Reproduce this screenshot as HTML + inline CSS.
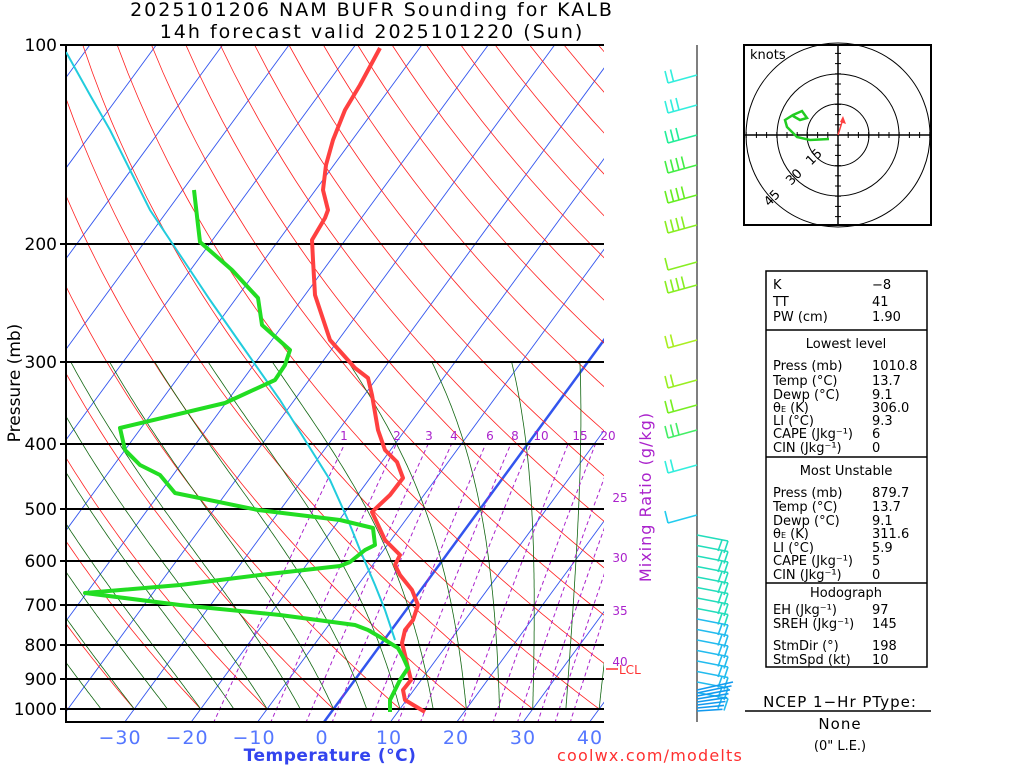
<!DOCTYPE html>
<html><head><meta charset="utf-8"><style>
body{margin:0;background:#fff;width:1024px;height:768px;overflow:hidden}
svg{font-family:"DejaVu Sans","Liberation Sans",sans-serif}
</style></head><body>
<svg id="s" width="1024" height="768" xmlns="http://www.w3.org/2000/svg">
<defs><clipPath id="c"><rect x="66" y="45" width="538" height="677"/></clipPath></defs>
<g id="grid" clip-path="url(#c)"></g>
<g id="hl" stroke="#000" stroke-width="2">
<line x1="60" y1="45" x2="604" y2="45"/><line x1="60" y1="244" x2="604" y2="244"/>
<line x1="60" y1="362" x2="604" y2="362"/><line x1="60" y1="444" x2="604" y2="444"/>
<line x1="60" y1="509" x2="604" y2="509"/><line x1="60" y1="561" x2="604" y2="561"/>
<line x1="60" y1="605" x2="604" y2="605"/><line x1="60" y1="645" x2="604" y2="645"/>
<line x1="60" y1="679" x2="604" y2="679"/><line x1="60" y1="709" x2="604" y2="709"/>
<line x1="66" y1="45" x2="66" y2="723"/><line x1="66" y1="722" x2="604" y2="722"/>
</g>
<g clip-path="url(#c)" fill="none" stroke-width="2">
<polyline stroke="#22ccdd" points="66,52 90,95 110,130 130,170 150,210 180,255 210,300 245,350 280,400 305,440 330,480 348,520 360,550 375,585 385,610 395,640"/>
</g>
<g fill="none" stroke-width="4" stroke-linejoin="round">
<polyline stroke="#ff4040" points="425,712 405,700 403,690 411,680 408,668 405,655 402,643 405,630 413,620 418,605 412,590 400,575 395,565 400,555 385,540 372,512 390,495 403,478 397,462 385,450 378,430 372,395 368,378 355,368 330,340 315,295 313,260 312,240 325,218 328,210 323,190 326,165 333,140 345,110 360,85 380,48"/>
<polyline stroke="#22dd22" points="390,712 390,700 395,690 400,680 408,668 403,657 398,648 385,640 368,630 355,625 280,615 180,605 85,593 180,585 260,575 340,566 350,562 365,550 375,545 373,528 340,520 258,510 175,493 160,475 140,465 125,450 120,428 225,403 275,380 285,365 290,350 262,325 258,298 232,270 200,242 198,225 194,190"/>
</g>
<g font-size="17" text-anchor="end" fill="#000">
<text x="57" y="51">100</text><text x="57" y="250">200</text><text x="57" y="368">300</text><text x="57" y="450">400</text><text x="57" y="515">500</text><text x="57" y="567">600</text><text x="57" y="611">700</text><text x="57" y="651">800</text><text x="57" y="685">900</text><text x="57" y="715">1000</text>
</g>
<text transform="translate(20,383) rotate(-90)" font-size="17" text-anchor="middle">Pressure (mb)</text>
<g font-size="19" text-anchor="middle" fill="#5577ff" letter-spacing="1">
<text x="120" y="744">−30</text><text x="187" y="744">−20</text><text x="254" y="744">−10</text><text x="322" y="744">0</text><text x="389" y="744">10</text><text x="456" y="744">20</text><text x="523" y="744">30</text><text x="590" y="744">40</text>
</g>
<text x="330" y="761" font-size="17" font-weight="bold" fill="#3344ee" text-anchor="middle" letter-spacing="0.5">Temperature (°C)</text>
<text x="650" y="761" font-size="16" fill="#ff3030" text-anchor="middle" letter-spacing="1.2">coolwx.com/modelts</text>
<text x="372" y="16" font-size="19" text-anchor="middle" letter-spacing="2">2025101206 NAM BUFR Sounding for KALB</text>
<text x="372" y="38" font-size="19" text-anchor="middle" letter-spacing="2">14h forecast valid 2025101220 (Sun)</text>
<g font-size="12" fill="#aa22cc" text-anchor="middle">
<text x="344" y="440">1</text><text x="397" y="440">2</text><text x="429" y="440">3</text><text x="454" y="440">4</text><text x="490" y="440">6</text><text x="515" y="440">8</text><text x="541" y="440">10</text><text x="580" y="440">15</text><text x="608" y="440">20</text>
<text x="620" y="502">25</text><text x="620" y="562">30</text><text x="620" y="615">35</text><text x="620" y="666">40</text>
</g>
<text transform="translate(651,497) rotate(-90)" font-size="16" fill="#aa22cc" text-anchor="middle" letter-spacing="1">Mixing Ratio (g/kg)</text>
<line x1="606" y1="669" x2="618" y2="669" stroke="#ff3030" stroke-width="1.5"/>
<text x="619" y="674" font-size="12" fill="#ff3030">LCL</text>
<line x1="697" y1="45" x2="697" y2="722" stroke="#555" stroke-width="1.5"/>
<g id="barbs" fill="none" stroke-width="2"></g>
<!-- hodograph -->
<g fill="none" stroke="#000">
<rect x="744" y="45" width="187" height="180" stroke-width="2"/>
<circle cx="838" cy="135" r="31"/><circle cx="838" cy="135" r="61"/><circle cx="838" cy="135" r="92"/>
<line x1="744" y1="135" x2="931" y2="135" stroke-width="1.5"/><line x1="838" y1="45" x2="838" y2="225" stroke-width="1.5"/>
</g>
<g id="hticks" stroke="#000" stroke-width="1"></g>
<text x="750" y="59" font-size="13">knots</text>
<text transform="translate(817,160) rotate(-45)" font-size="13" text-anchor="middle">15</text>
<text transform="translate(797,180) rotate(-45)" font-size="13" text-anchor="middle">30</text>
<text transform="translate(775,201) rotate(-45)" font-size="13" text-anchor="middle">45</text>
<polyline fill="none" stroke="#22cc22" stroke-width="2.5" points="829,139 810,140 797,137 787,127 785,120 793,115 802,111 807,118 800,120 793,116"/>
<line x1="838" y1="135" x2="843" y2="119" stroke="#ff4040" stroke-width="1.5"/><polygon points="843,116 846,124 840,122" fill="#ff4040"/>
<!-- table -->
<g fill="none" stroke="#000" stroke-width="1.5">
<rect x="766" y="271" width="161" height="396"/>
<line x1="766" y1="330" x2="927" y2="330"/><line x1="766" y1="457" x2="927" y2="457"/><line x1="766" y1="583" x2="927" y2="583"/>
</g>
<g font-size="13" fill="#000">
<text x="773" y="289">K</text><text x="872" y="289">−8</text>
<text x="773" y="306">TT</text><text x="872" y="306">41</text>
<text x="773" y="321">PW (cm)</text><text x="872" y="321">1.90</text>
<text x="846" y="348" text-anchor="middle">Lowest level</text>
<text x="773" y="370">Press (mb)</text><text x="872" y="370">1010.8</text>
<text x="773" y="385">Temp (°C)</text><text x="872" y="385">13.7</text>
<text x="773" y="399">Dewp (°C)</text><text x="872" y="399">9.1</text>
<text x="773" y="412">θ<tspan font-size="8">E</tspan> (K)</text><text x="872" y="412">306.0</text>
<text x="773" y="425">LI (°C)</text><text x="872" y="425">9.3</text>
<text x="773" y="438">CAPE (Jkg⁻¹)</text><text x="872" y="438">6</text>
<text x="773" y="452">CIN (Jkg⁻¹)</text><text x="872" y="452">0</text>
<text x="846" y="475" text-anchor="middle">Most Unstable</text>
<text x="773" y="497">Press (mb)</text><text x="872" y="497">879.7</text>
<text x="773" y="511">Temp (°C)</text><text x="872" y="511">13.7</text>
<text x="773" y="525">Dewp (°C)</text><text x="872" y="525">9.1</text>
<text x="773" y="538">θ<tspan font-size="8">E</tspan> (K)</text><text x="872" y="538">311.6</text>
<text x="773" y="552">LI (°C)</text><text x="872" y="552">5.9</text>
<text x="773" y="565">CAPE (Jkg⁻¹)</text><text x="872" y="565">5</text>
<text x="773" y="579">CIN (Jkg⁻¹)</text><text x="872" y="579">0</text>
<text x="846" y="597" text-anchor="middle">Hodograph</text>
<text x="773" y="614">EH (Jkg⁻¹)</text><text x="872" y="614">97</text>
<text x="773" y="628">SREH (Jkg⁻¹)</text><text x="872" y="628">145</text>
<text x="773" y="650">StmDir (°)</text><text x="872" y="650">198</text>
<text x="773" y="664">StmSpd (kt)</text><text x="872" y="664">10</text>
<text x="840" y="707" text-anchor="middle" font-size="15" letter-spacing="1">NCEP 1−Hr PType:</text>
<text x="840" y="729" text-anchor="middle" font-size="15" letter-spacing="1">None</text>
<text x="840" y="750" text-anchor="middle" font-size="13">(0" L.E.)</text>
</g>
<line x1="745" y1="711" x2="931" y2="711" stroke="#000" stroke-width="1.5"/>
</svg>
<script>
(function(){
var NS="http://www.w3.org/2000/svg",g=document.getElementById('grid');
function Y(p){return 45+664*Math.log10(p/100);}
function X(T,p){return 324+6.64*T+(722-Y(p))*0.733;}
function pl(pts,col,w,dash){var e=document.createElementNS(NS,'polyline');e.setAttribute('points',pts.map(function(a){return a[0].toFixed(1)+','+a[1].toFixed(1)}).join(' '));e.setAttribute('fill','none');e.setAttribute('stroke',col);e.setAttribute('stroke-width',w);if(dash)e.setAttribute('stroke-dasharray',dash);g.appendChild(e);}
var ps=[];for(var p=1000;p>=100;p-=10)ps.push(p);
// isotherms
for(var T=-110;T<=40;T+=10){pl([[X(T,1050),Y(1050)],[X(T,100),Y(100)]],'#3355ee',T==0?2.5:0.9);}
// dry adiabats
for(var k=-7;k<=22;k++){var th=273.15+10*k;var a=[];ps.forEach(function(p){a.push([X(th*Math.pow(p/1000,0.286)-273.15,p),Y(p)]);});pl(a,'#ff2020',0.8);}
// moist adiabats
function es(t){return 6.112*Math.exp(17.67*t/(t+243.5));}
for(var T0=-35;T0<=45;T0+=5){var t=T0+273.15,p=1000,a=[];
 while(p>=300){a.push([X(t-273.15,p),Y(p)]);var tc=t-273.15,e=es(tc),r=0.622*e/(p-e);var d=(287*t+2.5e6*r)/(1004+2.5e6*2.5e6*r*0.622/(287*t*t))/p;t-=d*5;p-=5;}
 pl(a,'#116611',0.8);}
// mixing ratio
[1,2,3,4,6,8,10,15,20,25,30,35,40].forEach(function(w){var a=[];for(var p=1050;p>=400;p-=10){var e=w/1000*p/(0.622+w/1000);var l=Math.log(e/6.112);var tc=243.5*l/(17.67-l);a.push([X(tc,p),Y(p)]);}pl(a,'#aa22cc',1,'4,3');});
// hodo ticks
var h=document.getElementById('hticks');
function hl(x1,y1,x2,y2){var e=document.createElementNS(NS,'line');e.setAttribute('x1',x1);e.setAttribute('y1',y1);e.setAttribute('x2',x2);e.setAttribute('y2',y2);h.appendChild(e);}
for(var i=-9;i<=9;i++){if(!i)continue;var d=i*10.2;hl(838+d,132,838+d,138);if(Math.abs(d)<88)hl(835,135+d,841,135+d);}
// barbs
var b=document.getElementById('barbs');
function line(x1,y1,x2,y2,c){var e=document.createElementNS(NS,'line');e.setAttribute('x1',x1);e.setAttribute('y1',y1);e.setAttribute('x2',x2);e.setAttribute('y2',y2);e.setAttribute('stroke',c);e.setAttribute('stroke-width',1.6);b.appendChild(e);}
var up=[[75,'#33eedd',2],[105,'#33eedd',3],[135,'#22ee99',3],[165,'#44ee44',4],[195,'#66ee22',4],[225,'#88ee22',4],[262,'#88ee22',1],[285,'#88ee22',4],[340,'#aaee22',2],[380,'#99ee22',2],[405,'#77ee22',2],[430,'#44ee66',3],[465,'#33eedd',2],[515,'#22ccee',1]];
up.forEach(function(u){var y=u[0],c=u[1];var x2=668,y2=y+8;line(697,y,x2,y2,c);for(var i=0;i<u[2];i++){var bx=x2+i*5.5,by=y2-i*1.5;line(bx,by,bx-3,by-12,c);}});
for(var y=535;y<=700;y+=10.5){var f=(y-535)/165;var c=f<0.5?'#22ddbb':'#22bbee';line(697,y,728,y+6,c);line(728,y+6,724,y+18,c);line(722,y+5,718,y+16,c);}
for(var y=690;y<=712;y+=3){line(697,y,722+(712-y)*0.5,y-8+(y-690)*0.3,'#1199ee');}
})();
</script>
</body></html>
